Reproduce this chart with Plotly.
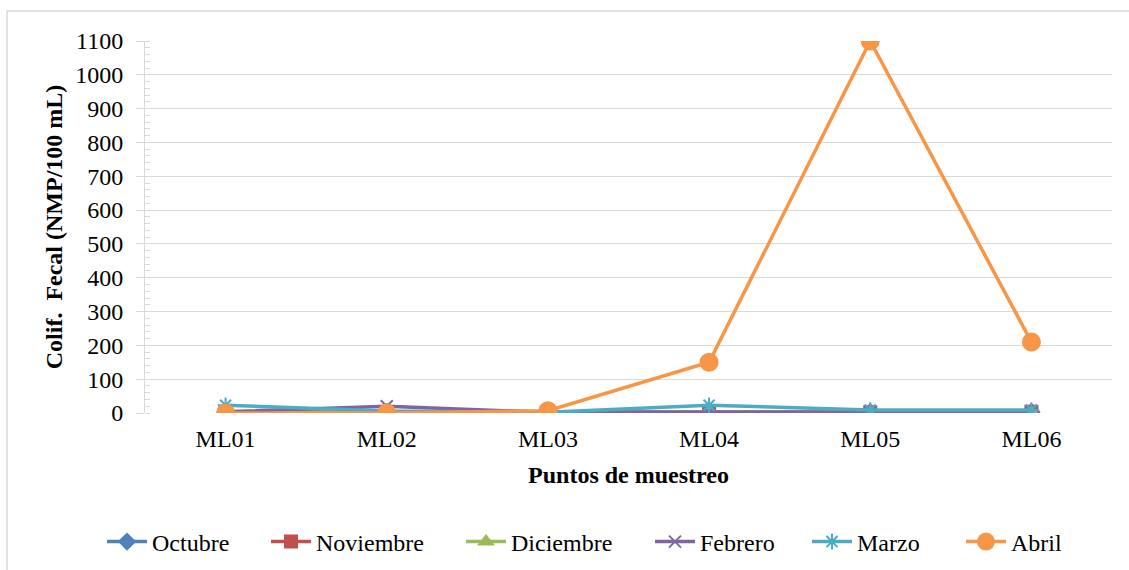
import plotly.graph_objects as go

# Sampling points and monthly fecal coliform counts (NMP/100 mL)
puntos = ["ML01", "ML02", "ML03", "ML04", "ML05", "ML06"]
octubre = [2, 2, 1, 2, 2, 3]
noviembre = [3, 2, 2, 3, 2, 4]
diciembre = [2, 2, 1, 2, 2, 2]
febrero = [4, 20, 2, 2, 2, 2]
marzo = [23, 6, 2, 23, 9, 9]
abril = [0, 0, 7, 150, 1100, 210]

y_ticks = [0, 100, 200, 300, 400, 500, 600, 700, 800, 900, 1000, 1100]

series = [
    ("Octubre", octubre, "#4f81bd", "diamond", 12),
    ("Noviembre", noviembre, "#c0504d", "square", 12),
    ("Diciembre", diciembre, "#9bbb59", "triangle-up", 12),
    ("Febrero", febrero, "#8064a2", "x-thin-open", 12),
    ("Marzo", marzo, "#4bacc6", "asterisk-open", 13),
    ("Abril", abril, "#f79646", "circle", 17),
]

# left edge (px) of each legend entry along the bottom row
legend_left_px = [102, 266, 461, 650, 807, 961]

PLOT_L, PLOT_R, PLOT_T, PLOT_B = 145, 1112, 41, 413
W, H = 1129, 570
plot_w = PLOT_R - PLOT_L
plot_h = PLOT_B - PLOT_T

serif = "Times New Roman"
grid = "#d9d9d9"
tfont = dict(family=serif, size=24, color="black")

fig = go.Figure()
legend_layout = {}
for i, (name, vals, color, symbol, size) in enumerate(series):
    lg = "legend" if i == 0 else f"legend{i + 1}"
    fig.add_trace(go.Scatter(
        x=puntos, y=vals, name=name, mode="lines+markers",
        line=dict(color=color, width=3.5),
        marker=dict(symbol=symbol, size=size, color=color,
                    line=dict(color=color, width=2)),
        legend=lg,
    ))
    legend_layout[lg] = dict(
        orientation="h",
        x=(legend_left_px[i] - PLOT_L) / plot_w, xanchor="left",
        y=(PLOT_B - 542) / plot_h, yanchor="middle",
        font=tfont, itemwidth=40, bgcolor="rgba(0,0,0,0)",
    )

fig.update_layout(
    width=W, height=H,
    margin=dict(l=PLOT_L, r=W - PLOT_R, t=PLOT_T, b=H - PLOT_B,
                autoexpand=False),
    paper_bgcolor="white", plot_bgcolor="white",
    font=tfont,
    showlegend=True,
    xaxis=dict(
        type="category", range=[-0.5, 5.5], automargin=False,
        showgrid=False, showline=False, zeroline=False,
        ticks="", tickfont=tfont, ticklabelstandoff=9,
        title=dict(text="<b>Puntos de muestreo</b>",
                   font=tfont, standoff=15),
    ),
    yaxis=dict(
        range=[0, 1100], tickvals=y_ticks, automargin=False,
        showgrid=True, gridcolor=grid, gridwidth=1,
        showline=True, linecolor=grid, linewidth=1,
        zeroline=False,
        ticks="outside", ticklen=8, tickcolor=grid, tickwidth=1,
        minor=dict(dtick=20, ticks="inside", ticklen=5,
                   tickcolor=grid, showgrid=False),
        tickfont=tfont, ticklabelstandoff=8,
        title=dict(text="<b>Colif.  Fecal (NMP/100 mL)</b>",
                   font=tfont, standoff=5),
    ),
    shapes=[
        dict(type="rect", xref="paper", yref="paper",
             x0=(7 - PLOT_L) / plot_w, x1=1.03,
             y0=-0.45, y1=(PLOT_B - 11) / plot_h,
             line=dict(color=grid, width=1.5), layer="below"),
    ],
    **legend_layout,
)

fig.write_html("out.html")
